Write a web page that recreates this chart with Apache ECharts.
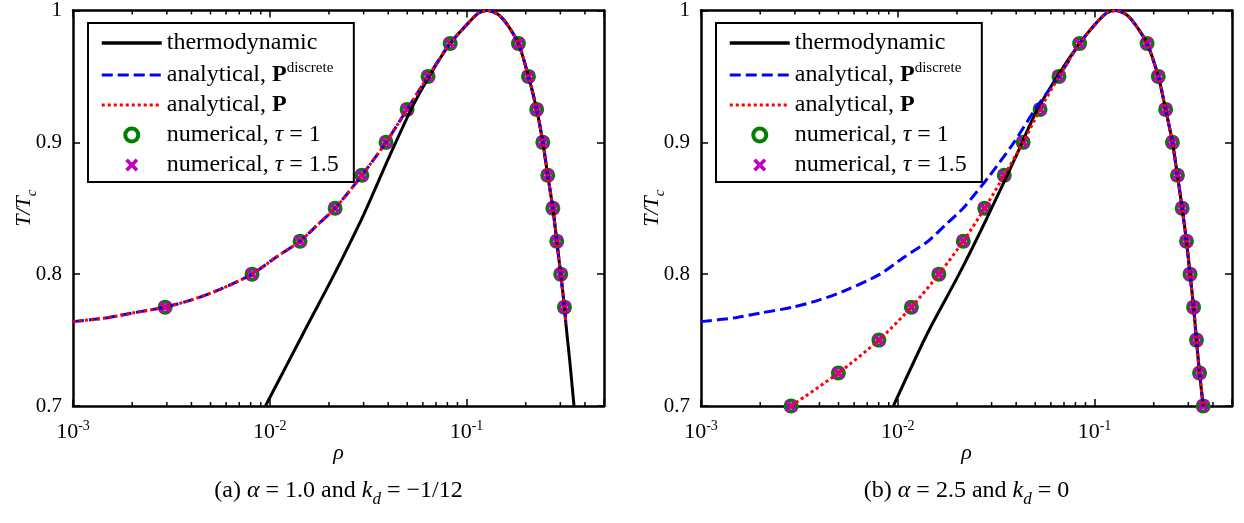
<!DOCTYPE html>
<html><head><meta charset="utf-8">
<script src="https://cdn.jsdelivr.net/npm/echarts@6/dist/echarts.min.js"></script>
<style>html,body{margin:0;padding:0;background:#fff}#c{width:1244px;height:523px}</style>
</head><body><div id="c"></div><script>
// ---------- data ----------
const xTickExponents = ['-3', '-2', '-1'];
const yTickLabels = ['0.7', '0.8', '0.9', '1'];
const minorTicks = [0.002,0.003,0.004,0.005,0.006,0.007,0.008,0.009,0.02,0.03,0.04,0.05,0.06,0.07,0.08,0.09,0.2,0.3,0.4];
const seriesNames = ['thermodynamic', 'analytical, Pdiscrete', 'analytical, P', 'numerical, tau = 1', 'numerical, tau = 1.5'];

// panel (a)
const thermoA_rho = [0.00951,0.0125,0.01603,0.0213,0.0300,0.0402,0.0527,0.0664,0.0826,0.100,0.115,0.128,0.145,0.160,0.1837,0.2066,0.2274,0.2444,0.2588,0.2749,0.2877,0.3013,0.3148,0.3200,0.3350,0.3520];
const thermoA_T   = [0.700,0.734,0.765,0.800,0.845,0.888,0.926,0.953,0.975,0.989,0.998,1.000,0.997,0.990,0.975,0.950,0.925,0.900,0.875,0.850,0.825,0.800,0.775,0.7625,0.734,0.700];
const anaA_rho = [0.001,0.0015,0.002,0.00294,0.004,0.0055,0.00813,0.0108,0.01426,0.0175,0.0215,0.0294,0.039,0.0499,0.0638,0.0826,0.100,0.115,0.128,0.145,0.160,0.1837,0.2066,0.2274,0.2444,0.2588,0.2749,0.2877,0.3013,0.3148,0.3200];
const anaA_T   = [0.764,0.767,0.7705,0.775,0.7805,0.788,0.800,0.813,0.825,0.8375,0.850,0.875,0.900,0.925,0.950,0.975,0.989,0.998,1.000,0.997,0.990,0.975,0.950,0.925,0.900,0.875,0.850,0.825,0.800,0.775,0.7625];
const ptsA_rho = [0.00294,0.00813,0.01426,0.0215,0.0294,0.039,0.0499,0.0638,0.0826,0.1837,0.2066,0.2274,0.2444,0.2588,0.2749,0.2877,0.3013,0.3148];
const ptsA_T   = [0.775,0.800,0.825,0.850,0.875,0.900,0.925,0.950,0.975,0.975,0.950,0.925,0.900,0.875,0.850,0.825,0.800,0.775];

// panel (b)
const thermoB_rho = [0.0095,0.01414,0.0205,0.0285,0.0395,0.0505,0.0660,0.0840,0.100,0.115,0.128,0.145,0.160,0.1850,0.2110,0.2300,0.2490,0.2640,0.2790,0.2935,0.3060,0.3190,0.3300,0.3420,0.3570];
const thermoB_T   = [0.700,0.755,0.800,0.843,0.888,0.923,0.952,0.975,0.989,0.998,1.000,0.997,0.990,0.975,0.950,0.925,0.900,0.875,0.850,0.825,0.800,0.775,0.750,0.725,0.700];
const anaDB_rho = [0.001,0.0015,0.002,0.00294,0.004,0.0055,0.00813,0.0108,0.01426,0.0175,0.0215,0.0294,0.039,0.0499,0.0660,0.0840,0.100,0.115,0.128,0.145,0.160,0.1850,0.2110,0.2300,0.2490,0.2640,0.2790,0.2935,0.3060,0.3190,0.3300,0.3420,0.3570];
const anaDB_T   = [0.764,0.767,0.7705,0.775,0.7805,0.788,0.800,0.813,0.825,0.8375,0.850,0.875,0.900,0.925,0.950,0.975,0.989,0.998,1.000,0.997,0.990,0.975,0.950,0.925,0.900,0.875,0.850,0.825,0.800,0.775,0.750,0.725,0.700];
const anaPB_rho = [0.00287,0.00499,0.00802,0.01173,0.01618,0.02153,0.02766,0.0348,0.0434,0.0529,0.0660,0.0840,0.100,0.115,0.128,0.145,0.160,0.1850,0.2110,0.2300,0.2490,0.2640,0.2790,0.2935,0.3060,0.3190,0.3300,0.3420,0.3570];
const anaPB_T   = [0.700,0.725,0.750,0.775,0.800,0.825,0.850,0.875,0.900,0.925,0.950,0.975,0.989,0.998,1.000,0.997,0.990,0.975,0.950,0.925,0.900,0.875,0.850,0.825,0.800,0.775,0.750,0.725,0.700];
const ptsB_rho = [0.00287,0.00499,0.00802,0.01173,0.01618,0.02153,0.02766,0.0348,0.0434,0.0529,0.0660,0.0840,0.1850,0.2110,0.2300,0.2490,0.2640,0.2790,0.2935,0.3060,0.3190,0.3300,0.3420,0.3570];
const ptsB_T   = [0.700,0.725,0.750,0.775,0.800,0.825,0.850,0.875,0.900,0.925,0.950,0.975,0.975,0.950,0.925,0.900,0.875,0.850,0.825,0.800,0.775,0.750,0.725,0.700];

const captionA = '{n|(a) }{i|α}{n| = 1.0 and }{i|k}{sub|d}{n| = −1/12}';
const captionB = '{n|(b) }{i|α}{n| = 2.5 and }{i|k}{sub|d}{n| = 0}';

// ---------- styling ----------
const serif = "'Liberation Serif','Times New Roman',serif";
function R(fs) {
  const base = {fontFamily: serif, fontSize: fs, color: '#000', lineHeight: fs + 4, verticalAlign: 'middle'};
  return {
    n: base,
    i: Object.assign({}, base, {fontStyle: 'italic'}),
    b: Object.assign({}, base, {fontWeight: 'bold'}),
    sup: {fontFamily: serif, fontSize: Math.round(fs * 0.62), color: '#000', lineHeight: fs + 4, verticalAlign: 'top'},
    sub: {fontFamily: serif, fontSize: Math.round(fs * 0.7), fontStyle: 'italic', color: '#000', lineHeight: fs + 10, verticalAlign: 'bottom'}
  };
}
const legendRich = {
  'thermodynamic': '{n|thermodynamic}',
  'analytical, Pdiscrete': '{n|analytical, }{b|P}{sup|discrete}',
  'analytical, P': '{n|analytical, }{b|P}',
  'numerical, tau = 1': '{n|numerical, }{i|τ}{n| = 1}',
  'numerical, tau = 1.5': '{n|numerical, }{i|τ}{n| = 1.5}'
};
const zip = (a, b) => a.map((v, i) => [v, b[i]]);
const GREEN = '#008000', MAG = '#bf00bf';
const XPATH = 'path://M2,0 L5,3 L8,0 L10,2 L7,5 L10,8 L8,10 L5,7 L2,10 L0,8 L3,5 L0,2 Z';
const grids = [{left: 73, top: 8, width: 531, height: 398}, {left: 701, top: 8, width: 531, height: 398}];

const xAxes = [], yAxes = [], series = [];
grids.forEach((g, gi) => {
  const common = {type: 'log', logBase: 10, gridIndex: gi, min: 0.001, max: 0.5,
    axisLine: {show: true, lineStyle: {color: '#000', width: 2.5}},
    axisTick: {show: true, inside: true, length: 7, lineStyle: {color: '#000', width: 1.5}},
    splitLine: {show: false}, minorTick: {show: false}};
  xAxes.push(Object.assign({}, common, {position: 'bottom',
    axisLabel: {margin: 13, formatter: v => {
      const e = Math.log10(v); const r = Math.round(e);
      if (Math.abs(e - r) > 1e-6) return '';
      const idx = r + 3; return xTickExponents[idx] !== undefined ? '{n|10}{sup|' + xTickExponents[idx] + '}' : '';
    }, rich: R(22)},
    name: 'ρ', nameLocation: 'middle', nameGap: 36, nameMoveOverlap: false,
    nameTextStyle: {fontFamily: serif, fontStyle: 'italic', fontSize: 22, color: '#000'}}));
  xAxes.push(Object.assign({}, common, {position: 'top', axisLabel: {show: false}}));
  const ycommon = {type: 'value', gridIndex: gi, min: 0.7, max: 1.0, interval: 0.1,
    axisLine: {show: true, lineStyle: {color: '#000', width: 2.5}},
    axisTick: {show: true, inside: true, length: 7, lineStyle: {color: '#000', width: 1.5}},
    splitLine: {show: false}};
  yAxes.push(Object.assign({}, ycommon, {position: 'left',
    axisLabel: {margin: 11, fontFamily: serif, fontSize: 21, color: '#000', formatter: (v, i) => yTickLabels[i]},
    name: '{i|T}{i|/}{i|T}{sub|c}', nameLocation: 'middle', nameGap: 33, nameRotate: 90, nameMoveOverlap: false,
    nameTextStyle: {rich: R(22)}}));
  yAxes.push(Object.assign({}, ycommon, {position: 'right', axisLabel: {show: false}}));
});

function lineSeries(name, gi, rho, T, color, type, w) {
  return {name, type: 'line', xAxisIndex: gi * 2, yAxisIndex: gi * 2, data: zip(rho, T),
    symbol: 'none', smooth: 0.25, lineStyle: {color, width: w, type}, itemStyle: {color}, clip: true, silent: true};
}
function scatterSeries(name, gi, rho, T, kind) {
  const s = {name, type: 'scatter', xAxisIndex: gi * 2, yAxisIndex: gi * 2, data: zip(rho, T), silent: true};
  if (kind === 'o') {
    s.symbol = 'circle'; s.symbolSize = 11;
    s.itemStyle = {color: 'rgba(0,0,0,0)', borderColor: GREEN, borderWidth: 4, opacity: 1};
  } else {
    s.symbol = XPATH; s.symbolSize = 13;
    s.itemStyle = {color: MAG, borderWidth: 0, opacity: 1};
  }
  return s;
}
function minorTickSeries(gi) {
  return {type: 'custom', xAxisIndex: gi * 2, yAxisIndex: gi * 2, silent: true, clip: false,
    data: minorTicks.map(v => [v, 0.7]), encode: {x: 0, y: 1},
    renderItem: (params, api) => {
      const v = api.value(0);
      const b = api.coord([v, 0.7]), t = api.coord([v, 1.0]);
      return {type: 'group', children: [
        {type: 'line', shape: {x1: b[0], y1: b[1], x2: b[0], y2: b[1] - 4}, style: {stroke: '#000', lineWidth: 1.5}},
        {type: 'line', shape: {x1: t[0], y1: t[1], x2: t[0], y2: t[1] + 4}, style: {stroke: '#000', lineWidth: 1.5}}
      ]};
    }};
}

series.push(
  lineSeries(seriesNames[0], 0, thermoA_rho, thermoA_T, '#000', 'solid', 3),
  lineSeries(seriesNames[1], 0, anaA_rho, anaA_T, '#0000ff', [11, 5], 3),
  lineSeries(seriesNames[2], 0, anaA_rho, anaA_T, '#ff0000', [3, 3], 3),
  scatterSeries(seriesNames[3], 0, ptsA_rho, ptsA_T, 'o'),
  scatterSeries(seriesNames[4], 0, ptsA_rho, ptsA_T, 'x'),
  minorTickSeries(0),
  lineSeries(seriesNames[0], 1, thermoB_rho, thermoB_T, '#000', 'solid', 3),
  lineSeries(seriesNames[1], 1, anaDB_rho, anaDB_T, '#0000ff', [11, 5], 3),
  lineSeries(seriesNames[2], 1, anaPB_rho, anaPB_T, '#ff0000', [3, 3], 3),
  scatterSeries(seriesNames[3], 1, ptsB_rho, ptsB_T, 'o'),
  scatterSeries(seriesNames[4], 1, ptsB_rho, ptsB_T, 'x'),
  minorTickSeries(1)
);

const legendData = [
  {name: seriesNames[0], itemStyle: {opacity: 0}, lineStyle: {width: 3.5, color: '#000', type: 'solid'}},
  {name: seriesNames[1], itemStyle: {opacity: 0}, lineStyle: {width: 3, color: '#0000ff', type: [11, 5]}},
  {name: seriesNames[2], itemStyle: {opacity: 0}, lineStyle: {width: 3, color: '#ff0000', type: [3, 3]}},
  {name: seriesNames[3], itemStyle: {color: 'rgba(0,0,0,0)', borderColor: GREEN, borderWidth: 4}},
  {name: seriesNames[4], itemStyle: {color: MAG, borderWidth: 0}}
];
const legends = [88, 716].map(left => ({
  left, top: 23, orient: 'vertical', itemWidth: 60, itemHeight: 13, itemGap: 6,
  padding: [8, 15, 5, 12], borderColor: '#000', borderWidth: 2, backgroundColor: '#fff',
  selectedMode: false, data: legendData, formatter: n => legendRich[n],
  textStyle: {fontFamily: serif, fontSize: 24, color: '#000', rich: R(24)}
}));

const chart = echarts.init(document.getElementById('c'));
chart.setOption({
  animation: false,
  backgroundColor: '#fff',
  grid: grids,
  xAxis: xAxes, yAxis: yAxes,
  legend: legends,
  series,
  graphic: [
    {type: 'text', x: 338.5, y: 491, style: {text: captionA, rich: R(24), align: 'center', verticalAlign: 'middle', textAlign: 'center', textVerticalAlign: 'middle'}},
    {type: 'text', x: 966.5, y: 491, style: {text: captionB, rich: R(24), align: 'center', verticalAlign: 'middle', textAlign: 'center', textVerticalAlign: 'middle'}}
  ]
});
</script></body></html>
